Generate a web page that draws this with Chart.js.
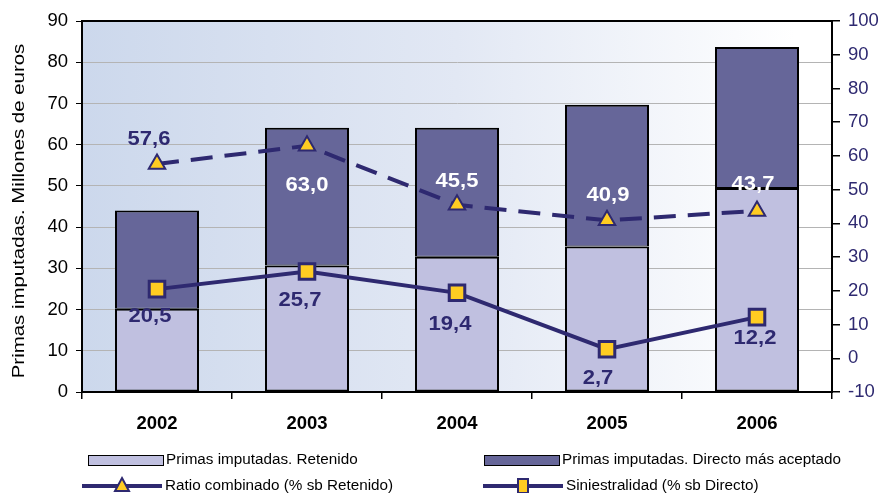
<!DOCTYPE html>
<html>
<head>
<meta charset="utf-8">
<script src="https://cdn.jsdelivr.net/npm/chart.js@4/dist/chart.umd.min.js"></script>
<style>
html,body{margin:0;padding:0;background:#fff;}
#wrap{width:881px;height:493px;position:relative;}
</style>
</head>
<body>
<div id="wrap"><canvas id="c" width="881" height="493"></canvas></div>
<script>
const categories = ['2002', '2003', '2004', '2005', '2006'];
const retenido = [20.2, 30.7, 32.8, 35.3, 49.5];
const directo = [23.8, 33.4, 31.3, 34.4, 34.2];
const ratioCombinado = [57.6, 63.0, 45.5, 40.9, 43.7];
const siniestralidad = [20.5, 25.7, 19.4, 2.7, 12.2];
const leftTicks = [0, 90, 10];
const rightTicks = [-10, 100, 10];

const NAVY = '#2e2970';
const GOLD = '#ffcc22';
const LIGHT = '#c0c0e0';
const DARK = '#666699';
const FONT = 'Arial, "Liberation Sans", sans-serif';

const labelPlacement = {
  2: [ {dx:-8,dy:-25,c:NAVY},{dx:0,dy:40,c:'#fff'},{dx:0,dy:-23,c:'#fff'},{dx:1,dy:-25,c:'#fff'},{dx:-4,dy:-26,c:'#fff'} ],
  3: [ {dx:-7,dy:27,c:NAVY},{dx:-7,dy:29,c:NAVY},{dx:-7,dy:32,c:NAVY},{dx:-9,dy:29,c:NAVY},{dx:-2,dy:21,c:NAVY} ]
};

const fmt = v => v.toFixed(1).replace('.', ',');

function stretchText(ctx, text, x, y, sx) {
  ctx.save();
  ctx.translate(x, y);
  ctx.scale(sx, 1);
  ctx.fillText(text, 0, 0);
  ctx.restore();
}

const bgPlugin = {
  id: 'bg',
  beforeDraw(chart) {
    const {ctx, chartArea: a} = chart;
    const g = ctx.createLinearGradient(a.left, 0, a.right, 0);
    g.addColorStop(0, 'rgb(204,216,236)');
    g.addColorStop(0.5, 'rgb(226,232,244)');
    g.addColorStop(0.95, 'rgb(255,255,255)');
    g.addColorStop(1, 'rgb(255,255,255)');
    ctx.save();
    ctx.fillStyle = g;
    ctx.fillRect(a.left, a.top, a.right - a.left, a.bottom - a.top);
    ctx.restore();
  },
  afterDraw(chart) {
    const {ctx, chartArea: a} = chart;
    ctx.save();
    ctx.strokeStyle = '#000';
    ctx.lineWidth = 2;
    ctx.strokeRect(a.left, a.top, a.right - a.left, a.bottom - a.top);
    // axis title
    ctx.translate(19, 211);
    ctx.rotate(-Math.PI / 2);
    ctx.fillStyle = '#000';
    ctx.font = '17px ' + FONT;
    ctx.textAlign = 'center';
    ctx.textBaseline = 'middle';
    stretchText(ctx, 'Primas imputadas. Millones de euros', 0, 0, 1.2);
    ctx.restore();
    // legend
    const ds = chart.data.datasets;
    ctx.save();
    ctx.font = '14px ' + FONT;
    ctx.textBaseline = 'middle';
    ctx.fillStyle = '#000';
    const items = [
      {d: ds[0], x: 88, y: 460, type: 'box'},
      {d: ds[1], x: 484, y: 460, type: 'box'},
      {d: ds[2], x: 82, y: 486, type: 'tri'},
      {d: ds[3], x: 483, y: 486, type: 'sq'}
    ];
    items.forEach(it => {
      if (it.type === 'box') {
        ctx.fillStyle = it.d.backgroundColor;
        ctx.fillRect(it.x, it.y - 5, 75, 10);
        ctx.strokeStyle = '#000';
        ctx.lineWidth = 1;
        ctx.strokeRect(it.x + 0.5, it.y - 5 + 0.5, 75, 10);
        ctx.fillStyle = '#000';
        stretchText(ctx, it.d.label, it.x + 78, it.y, 1.09);
      } else {
        ctx.strokeStyle = NAVY;
        ctx.lineWidth = 4;
        ctx.beginPath();
        ctx.moveTo(it.x, it.y);
        ctx.lineTo(it.x + 80, it.y);
        ctx.stroke();
        const cx = it.x + 40;
        ctx.fillStyle = GOLD;
        ctx.lineWidth = 2;
        ctx.beginPath();
        if (it.type === 'tri') {
          ctx.moveTo(cx, it.y - 8);
          ctx.lineTo(cx + 7, it.y + 5);
          ctx.lineTo(cx - 7, it.y + 5);
          ctx.closePath();
        } else {
          ctx.rect(cx - 5, it.y - 7, 10, 14);
        }
        ctx.fill();
        ctx.stroke();
        ctx.fillStyle = '#000';
        stretchText(ctx, it.d.label, it.x + 83, it.y, 1.09);
      }
    });
    ctx.restore();
  },
  afterDatasetsDraw(chart) {
    const {ctx} = chart;
    ctx.save();
    ctx.font = 'bold 20px ' + FONT;
    ctx.textAlign = 'center';
    ctx.textBaseline = 'middle';
    [2, 3].forEach(di => {
      const meta = chart.getDatasetMeta(di);
      const data = chart.data.datasets[di].data;
      meta.data.forEach((pt, i) => {
        const p = labelPlacement[di][i];
        ctx.fillStyle = p.c;
        stretchText(ctx, fmt(data[i]), pt.x + p.dx, pt.y + p.dy, 1.1);
      });
    });
    ctx.restore();
  }
};

new Chart(document.getElementById('c'), {
  data: {
    labels: categories,
    datasets: [
      {type: 'bar', label: 'Primas imputadas. Retenido', data: retenido, backgroundColor: LIGHT,
       borderColor: '#000', borderWidth: 2, borderSkipped: false, yAxisID: 'y', order: 2,
       categoryPercentage: 1, barPercentage: 0.56},
      {type: 'bar', label: 'Primas imputadas. Directo más aceptado', data: directo, backgroundColor: DARK,
       borderColor: '#000', borderWidth: {top: 2, left: 2, right: 2, bottom: 1}, borderSkipped: false,
       yAxisID: 'y', order: 2, categoryPercentage: 1, barPercentage: 0.56},
      {type: 'line', label: 'Ratio combinado (% sb Retenido)', data: ratioCombinado, yAxisID: 'y2',
       borderColor: NAVY, borderWidth: 4, borderDash: [22, 12], fill: false, tension: 0,
       pointStyle: 'triangle', pointRadius: 9.5, pointBackgroundColor: GOLD, pointBorderColor: NAVY,
       pointBorderWidth: 2, order: 0, stack: 'l1'},
      {type: 'line', label: 'Siniestralidad (% sb Directo)', data: siniestralidad, yAxisID: 'y2',
       borderColor: NAVY, borderWidth: 4, fill: false, tension: 0,
       pointStyle: 'rect', pointRadius: 11, pointBackgroundColor: GOLD, pointBorderColor: NAVY,
       pointBorderWidth: 3, order: 0, stack: 'l2'}
    ]
  },
  options: {
    responsive: false,
    animation: false,
    layout: {padding: {top: 21, bottom: 61, left: 0, right: 0}},
    plugins: {legend: {display: false}, tooltip: {enabled: false}},
    scales: {
      x: {
        stacked: true,
        afterFit: s => { s.height = 40; },
        grid: {offset: true, drawOnChartArea: false, drawTicks: true, tickLength: 7, tickColor: '#000', lineWidth: 1.5},
        border: {color: '#000', width: 2},
        ticks: {color: '#000', font: {family: FONT, size: 18.5, weight: 'bold'}, padding: 14}
      },
      y: {
        stacked: true,
        position: 'left',
        min: leftTicks[0], max: leftTicks[1],
        afterFit: s => { s.width = 82; },
        ticks: {stepSize: leftTicks[2], color: '#000', font: {family: FONT, size: 18.5}, padding: 8},
        grid: {color: '#b4b4b4', lineWidth: 1, tickColor: '#000', tickLength: 6, drawTicks: true},
        border: {color: '#000', width: 2}
      },
      y2: {
        position: 'right',
        min: rightTicks[0], max: rightTicks[1],
        afterFit: s => { s.width = 49; },
        ticks: {stepSize: rightTicks[2], color: NAVY, font: {family: FONT, size: 18.5}, padding: 8},
        grid: {drawOnChartArea: false, tickColor: '#000', tickLength: 8, lineWidth: 1.5},
        border: {color: '#000', width: 2}
      }
    }
  },
  plugins: [bgPlugin]
});
</script>
</body>
</html>
